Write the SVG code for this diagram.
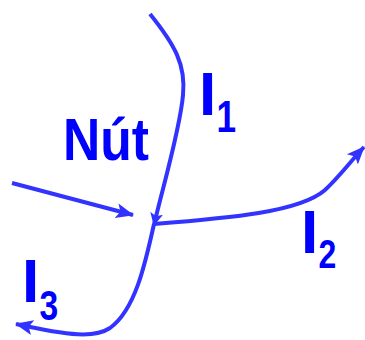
<svg xmlns="http://www.w3.org/2000/svg" width="365" height="340" viewBox="0 0 365 340">
<style>
.w{fill:none;stroke:#3333FF;stroke-width:4;stroke-linecap:butt}
.t{font-family:"Liberation Sans",Arial,sans-serif;font-weight:bold;fill:#0000FF}
</style>
<defs>
<marker id="ah" markerUnits="userSpaceOnUse" markerWidth="20" markerHeight="20" viewBox="0 0 20 20" refX="17" refY="10" orient="auto">
<path d="M0,2.5 L18,10 L0,17.5 L4,10 Z" fill="#3333FF"/>
</marker>
<marker id="ahs" markerUnits="userSpaceOnUse" markerWidth="16" markerHeight="16" viewBox="0 0 16 16" refX="12" refY="8" orient="auto">
<path d="M0,1.5 L13,8 L0,14.5 L3,8 Z" fill="#3333FF"/>
</marker>
</defs>
<g id="connectors">
<path class="w" d="M150,14 C175,45 186,65 183,95 C180,130 162,190 154,225" marker-end="url(#ahs)"/>
<path class="w" d="M12,183 L133,215" marker-end="url(#ah)"/>
<path class="w" d="M154,224 C230,218 300,212 325,190 C340,176 350,162 364,147" marker-end="url(#ah)"/>
<path class="w" d="M154,224 C145,265 135,310 110,328 C95,338 70,336 16,324" marker-end="url(#ah)"/>
</g>
<g id="nut"><text class="t" x="63" y="160" font-size="60" textLength="86" lengthAdjust="spacingAndGlyphs">Nút</text></g>
<g id="I1"><text class="t" x="199" y="115" font-size="62">I</text><text class="t" transform="translate(216.5,132) scale(0.8,1)" font-size="44">1</text></g>
<g id="I2"><text class="t" x="301" y="253" font-size="62">I</text><text class="t" transform="translate(318.5,268) scale(0.8,1)" font-size="40">2</text></g>
<g id="I3"><text class="t" x="22" y="302" font-size="62">I</text><text class="t" transform="translate(39.5,320) scale(0.8,1)" font-size="42">3</text></g>
</svg>
